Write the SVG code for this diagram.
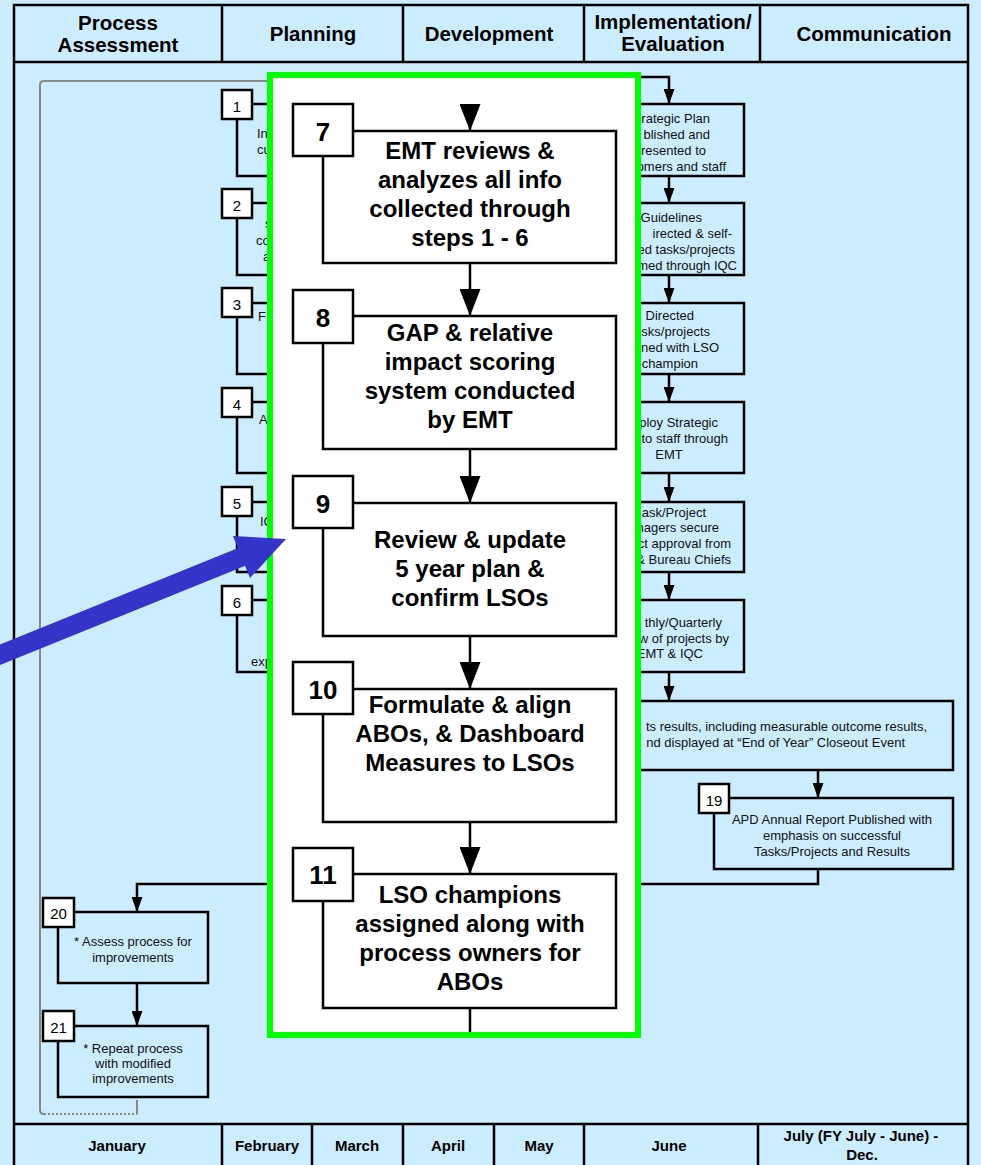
<svg xmlns="http://www.w3.org/2000/svg" width="981" height="1165" viewBox="0 0 981 1165">
  <defs>
    <style>
      .frame { fill: none; stroke: #000; stroke-width: 2.5; }
      .box { fill: #CCECFF; stroke: #000; stroke-width: 2.5; }
      .nbox { fill: #fff; stroke: #000; stroke-width: 2.5; }
      .pbox { fill: #fff; stroke: #000; stroke-width: 2.5; }
      .conn { fill: none; stroke: #000; stroke-width: 2.5; }
      .loop { fill: none; stroke: #888; stroke-width: 2; }
      .hd { font-family: "Liberation Sans", Arial, sans-serif; font-weight: bold; font-size: 20.5px; text-anchor: middle; fill: #000; }
      .ft { font-family: "Liberation Sans", Arial, sans-serif; font-weight: bold; font-size: 15px; text-anchor: middle; fill: #000; }
      .sm { font-family: "Liberation Sans", Arial, sans-serif; font-size: 13px; fill: #111; }
      .mid { text-anchor: middle; }
      .end { text-anchor: end; }
      .num { font-family: "Liberation Sans", Arial, sans-serif; font-size: 15px; text-anchor: middle; fill: #000; }
      .big { font-family: "Liberation Sans", Arial, sans-serif; font-weight: bold; font-size: 24px; text-anchor: middle; fill: #000; }
      .bnum { font-family: "Liberation Sans", Arial, sans-serif; font-weight: bold; font-size: 26px; text-anchor: middle; fill: #000; }
    </style>
    <marker id="arrow" markerUnits="userSpaceOnUse" markerWidth="15" markerHeight="11" refX="15" refY="5.5" orient="auto">
      <path d="M0,0 L15,5.5 L0,11 Z" fill="#000"/>
    </marker>
    <marker id="arrowBig" markerUnits="userSpaceOnUse" markerWidth="27" markerHeight="21" refX="27" refY="10.5" orient="auto">
      <path d="M0,0 L27,10.5 L0,21 Z" fill="#000"/>
    </marker>
  </defs>

  <!-- background -->
  <rect x="0" y="0" width="981" height="1165" fill="#CCECFF"/>

  <!-- swimlane frame: header, footer and column dividers -->
  <g id="frame">
    <rect class="frame" x="14" y="5" width="954" height="1175"/>
    <line class="frame" x1="14" y1="62" x2="968" y2="62"/>
    <line class="frame" x1="14" y1="1124" x2="968" y2="1124"/>
    <path class="frame" d="M222,5 V62 M403,5 V62 M584,5 V62 M760,5 V62"/>
    <path class="frame" d="M222,1124 V1165 M312,1124 V1165 M403,1124 V1165 M494,1124 V1165 M584,1124 V1165 M758,1124 V1165"/>
    <text class="hd" x="118" y="30">Process</text>
    <text class="hd" x="118" y="52">Assessment</text>
    <text class="hd" x="313" y="41">Planning</text>
    <text class="hd" x="489" y="41">Development</text>
    <text class="hd" x="673" y="29">Implementation/</text>
    <text class="hd" x="673" y="51">Evaluation</text>
    <text class="hd" x="874" y="41">Communication</text>
    <text class="ft" x="117" y="1151">January</text>
    <text class="ft" x="267" y="1151">February</text>
    <text class="ft" x="357" y="1151">March</text>
    <text class="ft" x="448" y="1151">April</text>
    <text class="ft" x="539" y="1151">May</text>
    <text class="ft" x="669" y="1151">June</text>
    <text class="ft" x="861" y="1141">July (FY July - June) -</text>
    <text class="ft" x="862" y="1160">Dec.</text>
  </g>

  <!-- yearly loop back to the start -->
  <g id="loop">
    <path class="loop" d="M300,81 H44 Q40,81 40,85 V1110 Q40,1114 44,1114"/>
    <path class="loop" d="M44,1114 H137" stroke-dasharray="2,2"/>
    <path class="loop" d="M137,1114 V1100"/>
  </g>

  <!-- assessment steps 1-6 -->
  <g id="n1">
    <rect class="box" x="237" y="104" width="150" height="72"/>
    <rect class="nbox" x="222" y="90" width="30" height="29"/>
    <text class="num" x="237" y="111.5">1</text>
    <text class="sm" x="257" y="138">In</text>
    <text class="sm" x="257" y="154">cu</text>
  </g>
  <g id="n2">
    <rect class="box" x="237" y="203" width="150" height="72"/>
    <rect class="nbox" x="222" y="189" width="30" height="29"/>
    <text class="num" x="237" y="210.5">2</text>
    <text class="sm" x="265" y="228">s</text>
    <text class="sm" x="256" y="245">co</text>
    <text class="sm" x="263" y="261">a</text>
  </g>
  <g id="n3">
    <rect class="box" x="237" y="303" width="150" height="71"/>
    <rect class="nbox" x="222" y="288" width="30" height="29"/>
    <text class="num" x="237" y="309.5">3</text>
    <text class="sm" x="258" y="321">F</text>
  </g>
  <g id="n4">
    <rect class="box" x="237" y="402" width="150" height="71"/>
    <rect class="nbox" x="222" y="388" width="30" height="29"/>
    <text class="num" x="237" y="409.5">4</text>
    <text class="sm" x="259" y="424">A</text>
  </g>
  <g id="n5">
    <rect class="box" x="237" y="502" width="150" height="70"/>
    <rect class="nbox" x="222" y="487" width="30" height="29"/>
    <text class="num" x="237" y="508.5">5</text>
    <text class="sm" x="260" y="526">IC</text>
  </g>
  <g id="n6">
    <rect class="box" x="237" y="600" width="150" height="72"/>
    <rect class="nbox" x="222" y="586" width="30" height="29"/>
    <text class="num" x="237" y="607.5">6</text>
    <text class="sm" x="251" y="666">exp</text>
  </g>

  <!-- implementation and communication steps -->
  <g id="n12">
    <rect class="box" x="594" y="104" width="150" height="72"/>
    <text class="sm end" x="710" y="123">rategic Plan</text>
    <text class="sm end" x="710" y="139">blished and</text>
    <text class="sm end" x="706" y="155">resented to</text>
    <text class="sm end" x="726" y="171">omers and staff</text>
  </g>
  <g id="n13">
    <rect class="box" x="594" y="203" width="150" height="72"/>
    <text class="sm end" x="702" y="222">Guidelines</text>
    <text class="sm end" x="732" y="238">irected &amp; self-</text>
    <text class="sm end" x="735" y="254">ed tasks/projects</text>
    <text class="sm end" x="737" y="270">med through IQC</text>
  </g>
  <g id="n14">
    <rect class="box" x="594" y="303" width="150" height="71"/>
    <text class="sm end" x="694" y="320">Directed</text>
    <text class="sm end" x="710" y="336">sks/projects</text>
    <text class="sm end" x="719" y="352">ned with LSO</text>
    <text class="sm end" x="698" y="368">champion</text>
  </g>
  <g id="n15">
    <rect class="box" x="594" y="402" width="150" height="71"/>
    <text class="sm end" x="718" y="427">ploy Strategic</text>
    <text class="sm end" x="728" y="443">to staff through</text>
    <text class="sm mid" x="669" y="459">EMT</text>
  </g>
  <g id="n16">
    <rect class="box" x="594" y="502" width="150" height="70"/>
    <text class="sm end" x="706" y="517">ask/Project</text>
    <text class="sm end" x="719" y="532">nagers secure</text>
    <text class="sm end" x="731" y="548">ct approval from</text>
    <text class="sm end" x="731" y="564">&amp; Bureau Chiefs</text>
  </g>
  <g id="n17">
    <rect class="box" x="594" y="600" width="150" height="72"/>
    <text class="sm end" x="722" y="627">thly/Quarterly</text>
    <text class="sm end" x="729" y="643">w of projects by</text>
    <text class="sm end" x="703" y="658">EMT &amp; IQC</text>
  </g>
  <g id="n18">
    <rect class="box" x="594" y="701" width="359" height="69"/>
    <text class="sm end" x="927" y="731">ts results, including measurable outcome results,</text>
    <text class="sm end" x="905" y="747">nd displayed at “End of Year” Closeout Event</text>
  </g>
  <g id="n19">
    <rect class="box" x="714" y="798" width="239" height="71"/>
    <rect class="nbox" x="699" y="784" width="30" height="29"/>
    <text class="num" x="714" y="805.5">19</text>
    <text class="sm mid" x="832" y="824">APD Annual Report Published with</text>
    <text class="sm mid" x="832" y="840">emphasis on successful</text>
    <text class="sm mid" x="832" y="856">Tasks/Projects and Results</text>
  </g>

  <!-- process review steps -->
  <g id="n20">
    <rect class="box" x="58" y="912" width="150" height="71"/>
    <rect class="nbox" x="43" y="898" width="31" height="29"/>
    <text class="num" x="58.5" y="919">20</text>
    <text class="sm mid" x="133" y="946">* Assess process for</text>
    <text class="sm mid" x="133" y="962">improvements</text>
  </g>
  <g id="n21">
    <rect class="box" x="58" y="1026" width="150" height="71"/>
    <rect class="nbox" x="43" y="1011" width="31" height="30"/>
    <text class="num" x="58.5" y="1033">21</text>
    <text class="sm mid" x="133" y="1053">* Repeat process</text>
    <text class="sm mid" x="133" y="1068">with modified</text>
    <text class="sm mid" x="133" y="1083">improvements</text>
  </g>

  <!-- flow between the outer steps -->
  <g id="connectors">
    <path class="conn" d="M630,77 H669 V104" marker-end="url(#arrow)"/>
    <path class="conn" d="M669,176 V203" marker-end="url(#arrow)"/>
    <path class="conn" d="M669,275 V303" marker-end="url(#arrow)"/>
    <path class="conn" d="M669,374 V402" marker-end="url(#arrow)"/>
    <path class="conn" d="M669,473 V502" marker-end="url(#arrow)"/>
    <path class="conn" d="M669,572 V600" marker-end="url(#arrow)"/>
    <path class="conn" d="M669,672 V701" marker-end="url(#arrow)"/>
    <path class="conn" d="M818,770 V798" marker-end="url(#arrow)"/>
    <path class="conn" d="M818,869 V884 H137 V912" marker-end="url(#arrow)"/>
    <path class="conn" d="M137,983 V1026" marker-end="url(#arrow)"/>
  </g>

  <!-- highlighted planning steps 7-11 -->
  <g id="focus-panel">
    <rect x="270" y="75" width="368" height="960" fill="#fff" stroke="#00FF00" stroke-width="6"/>
  </g>
  <g id="n7">
    <rect class="pbox" x="323" y="131" width="293" height="132"/>
    <rect class="pbox" x="293" y="104" width="60" height="52"/>
    <text class="bnum" x="323" y="141">7</text>
    <text class="big" x="470" y="159">EMT reviews &amp;</text>
    <text class="big" x="470" y="188">analyzes all info</text>
    <text class="big" x="470" y="217">collected through</text>
    <text class="big" x="470" y="246">steps 1 - 6</text>
  </g>
  <g id="n8">
    <rect class="pbox" x="323" y="316" width="293" height="133"/>
    <rect class="pbox" x="293" y="290" width="60" height="53"/>
    <text class="bnum" x="323" y="327">8</text>
    <text class="big" x="470" y="341">GAP &amp; relative</text>
    <text class="big" x="470" y="370">impact scoring</text>
    <text class="big" x="470" y="399">system conducted</text>
    <text class="big" x="470" y="428">by EMT</text>
  </g>
  <g id="n9">
    <rect class="pbox" x="323" y="503" width="293" height="133"/>
    <rect class="pbox" x="293" y="476" width="60" height="52"/>
    <text class="bnum" x="323" y="513">9</text>
    <text class="big" x="470" y="548">Review &amp; update</text>
    <text class="big" x="470" y="577">5 year plan &amp;</text>
    <text class="big" x="470" y="606">confirm LSOs</text>
  </g>
  <g id="n10">
    <rect class="pbox" x="323" y="689" width="293" height="133"/>
    <rect class="pbox" x="293" y="662" width="60" height="52"/>
    <text class="bnum" x="323" y="699">10</text>
    <text class="big" x="470" y="713">Formulate &amp; align</text>
    <text class="big" x="470" y="742">ABOs, &amp; Dashboard</text>
    <text class="big" x="470" y="771">Measures to LSOs</text>
  </g>
  <g id="n11">
    <rect class="pbox" x="323" y="874" width="293" height="134"/>
    <rect class="pbox" x="293" y="848" width="60" height="53"/>
    <text class="bnum" x="323" y="884">11</text>
    <text class="big" x="470" y="903">LSO champions</text>
    <text class="big" x="470" y="932">assigned along with</text>
    <text class="big" x="470" y="961">process owners for</text>
    <text class="big" x="470" y="990">ABOs</text>
  </g>

  <!-- flow inside the highlighted panel -->
  <g id="panel-connectors">
    <path class="conn" d="M470,104 V131" marker-end="url(#arrowBig)"/>
    <path class="conn" d="M470,263 V316" marker-end="url(#arrowBig)"/>
    <path class="conn" d="M470,449 V503" marker-end="url(#arrowBig)"/>
    <path class="conn" d="M470,636 V689" marker-end="url(#arrowBig)"/>
    <path class="conn" d="M470,822 V874" marker-end="url(#arrowBig)"/>
    <path class="conn" d="M470,1008 V1032"/>
  </g>

  <!-- blue pointer to step 9 -->
  <g id="pointer">
    <line x1="-12" y1="659.6" x2="243" y2="556.4" stroke="#3434C8" stroke-width="19"/>
    <polygon points="286,539 233,536 250,578" fill="#3434C8"/>
  </g>
</svg>
